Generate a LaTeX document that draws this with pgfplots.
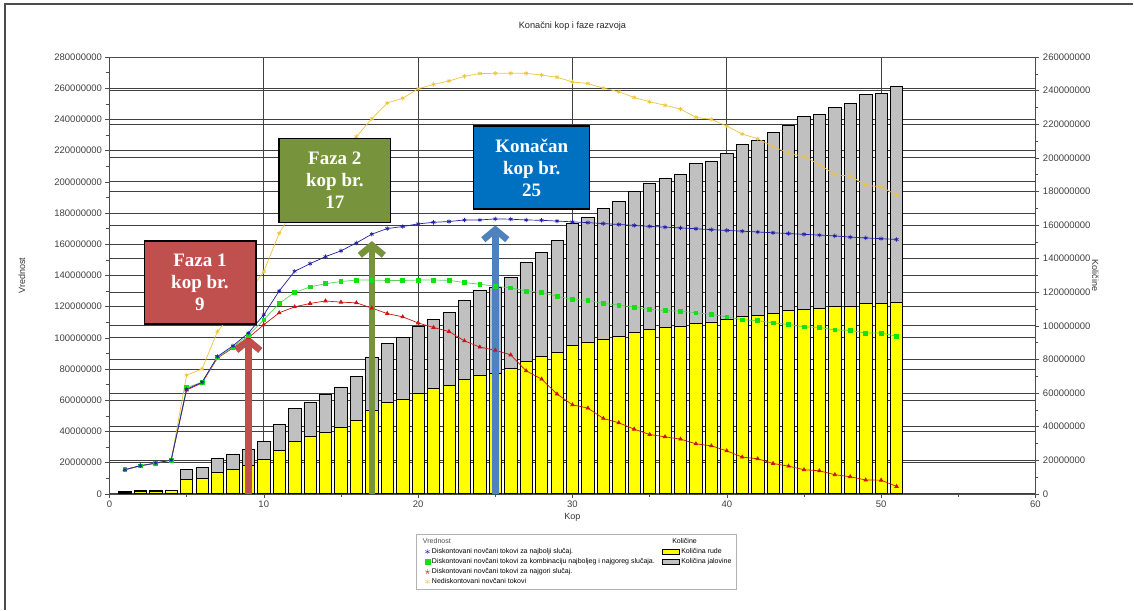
\documentclass[border=0pt]{standalone}
\usepackage{fontspec}
\setmainfont{Liberation Sans}
\newfontfamily\boxfont{Liberation Serif}
\usepackage{pgfplots}
\usepackage{pgfplotstable}
\pgfplotsset{compat=1.18}
\usetikzlibrary{arrows.meta}

\definecolor{oreyel}{RGB}{255,255,0}
\definecolor{wastegr}{RGB}{192,192,192}
\definecolor{bestc}{RGB}{30,30,170}
\definecolor{midc}{RGB}{20,225,20}
\definecolor{midline}{RGB}{90,210,90}
\definecolor{worstc}{RGB}{205,20,20}
\definecolor{undisc}{RGB}{238,196,60}
\definecolor{f1}{RGB}{192,80,77}
\definecolor{f2}{RGB}{119,147,60}
\definecolor{f3}{RGB}{0,112,192}
\definecolor{a3}{RGB}{79,129,189}

% cash flows, millions
\pgfplotstableread{
x best mid worst undisc
1 15.4 15.4 15.4 15.4
2 18.0 17.9 17.9 17.9
3 19.6 19.6 19.6 19.6
4 21.6 21.6 21.6 21.6
5 67.0 68.0 66.5 76.0
6 71.5 71.5 71.0 80.0
7 88.0 87.5 87.0 104.0
8 94.8 94.0 93.5 116.0
9 103.0 101.5 100.0 129.0
10 114.7 111.5 108.3 142.4
11 130.0 122.0 116.0 167.0
12 142.6 129.0 119.8 183.0
13 147.5 132.6 122.0 197.0
14 152.0 134.7 123.6 209.0
15 155.7 136.0 122.8 220.0
16 160.8 137.0 122.4 229.0
17 166.4 137.0 119.0 240.4
18 170.0 136.7 115.5 250.5
19 171.3 136.7 113.4 253.5
20 173.0 137.0 109.5 259.6
21 174.0 137.0 106.6 262.4
22 174.5 136.8 104.0 264.6
23 175.5 135.4 98.0 267.6
24 175.5 134.3 94.0 269.4
25 176.2 133.0 92.0 269.5
26 176.0 132.0 89.0 269.5
27 175.5 130.0 78.8 269.5
28 175.3 129.0 73.5 268.4
29 174.8 126.6 63.9 267.0
30 174.3 124.5 57.0 264.0
31 173.8 124.0 54.9 263.0
32 173.2 122.0 48.3 260.0
33 172.6 121.0 45.5 257.7
34 172.0 119.6 41.4 254.0
35 171.4 118.3 38.0 251.3
36 170.9 117.4 36.5 249.0
37 170.4 117.0 35.0 246.6
38 169.9 116.0 32.0 241.3
39 169.3 115.0 30.7 240.0
40 168.8 113.4 27.5 235.7
41 168.3 111.5 23.5 230.6
42 167.8 111.0 22.4 227.6
43 167.3 109.5 19.4 222.5
44 166.8 108.5 17.7 218.6
45 166.3 107.0 15.4 216.0
46 165.8 106.6 14.7 211.2
47 165.3 105.0 12.2 204.4
48 164.5 104.7 10.9 203.7
49 164.0 103.0 8.8 197.8
50 163.5 103.0 8.7 196.7
51 163.0 101.0 4.7 191.5
}\flows

% ore and waste, millions
\pgfplotstableread{
x ore waste
1 1.0 0.2
2 1.5 0.3
3 1.5 0.3
4 1.9 0.3
5 8.3 6.4
6 9.3 6.6
7 12.7 8.1
8 14.5 8.7
9 16.7 9.7
10 20.4 10.9
11 26.0 15.5
12 31.1 19.5
13 34.1 20.4
14 36.7 22.3
15 39.5 24.1
16 43.6 26.4
17 49.6 31.4
18 54.5 35.1
19 56.5 36.5
20 59.9 39.6
21 62.9 41.0
22 64.7 43.3
23 68.0 47.2
24 70.8 50.6
25 71.8 51.2
26 74.8 54.1
27 78.7 59.1
28 81.7 61.8
29 84.3 66.5
30 88.5 72.5
31 90.0 74.4
32 92.2 77.8
33 93.8 80.3
34 96.2 83.8
35 98.0 86.8
36 98.8 88.8
37 99.5 90.7
38 101.5 95.2
39 102.3 95.8
40 103.9 98.8
41 105.5 102.5
42 106.3 104.1
43 107.5 107.5
44 108.9 110.6
45 109.9 114.6
46 110.5 115.4
47 111.4 118.6
48 111.8 120.6
49 113.4 124.4
50 113.4 124.7
51 114.2 128.5
}\amounts

\pgfplotsset{
  common/.style={
    set layers,
    at={(109.5pt,116pt)}, anchor=south west,
    scale only axis, width=926.5pt, height=437pt,
    xmin=0, xmax=60,
    axis line style={black!70},
    major tick length=4pt, minor tick length=3pt,
    tick align=outside,
    every tick/.style={black!70},
    tick label style={font=\fontsize{9.5}{11}\selectfont, text=black!75},
    grid style={black!75, line width=0.7pt},
  },
  nolegimg/.style={legend image code/.code={}},
}

\begin{document}
\begin{tikzpicture}
\path (0pt,0pt) rectangle (1134pt,610pt);
\draw[black!70, line width=1.2pt] (5pt,0pt) -- (5pt,606pt) -- (1134pt,606pt);

% quantities (right axis)
\begin{axis}[common,
  ymin=0, ymax=260,
  axis y line*=right, axis x line=none,
  ytick={0,20,...,260},
  yticklabels={0,20000000,40000000,60000000,80000000,100000000,120000000,140000000,160000000,180000000,200000000,220000000,240000000,260000000},
  minor y tick num=1,
  ymajorgrids,
  ybar stacked, bar width=0.8,
  ylabel={Količine},
  every axis y label/.style={at={(axis description cs:1.0648,0.5)}, rotate=-90, anchor=center, font=\fontsize{9}{10}\selectfont, text=black!80},
]
\addplot[draw=black, line width=0.6pt, fill=oreyel] table[x=x,y=ore]{\amounts};
\addplot[draw=black, line width=0.6pt, fill=wastegr] table[x=x,y=waste]{\amounts};
\end{axis}

% values (left axis)
\begin{axis}[common,
  ymin=0, ymax=280,
  tick pos=left,
  xtick={0,10,...,60}, minor x tick num=1,
  ytick={0,20,...,280},
  yticklabels={0,20000000,40000000,60000000,80000000,100000000,120000000,140000000,160000000,180000000,200000000,220000000,240000000,260000000,280000000},
  minor y tick num=1,
  /pgf/number format/assume math mode=true,
  xmajorgrids, ymajorgrids,
  xlabel={Kop}, ylabel={Vrednost},
  every axis x label/.style={at={(axis description cs:0.5,-0.055)}, anchor=center, font=\fontsize{9}{10}\selectfont, text=black!80},
  every axis y label/.style={at={(axis description cs:-0.0944,0.5)}, rotate=90, anchor=center, font=\fontsize{9}{10}\selectfont, text=black!80},
  title={Konačni kop i faze razvoja},
  title style={at={(axis description cs:0.5,1.057)}, anchor=center, font=\fontsize{9.2}{10}\selectfont, text=black!85},
  legend columns=2,
  legend cell align=left,
  legend style={at={(axis description cs:0.3308,-0.0915)}, anchor=north west,
    draw=black!30, font=\fontsize{7}{8}\selectfont, row sep=-0.6pt,
    inner xsep=3pt, inner ysep=2.5pt,
    /tikz/every even column/.append style={column sep=5pt}},
]
\addplot[undisc, line width=0.7pt, mark=asterisk, mark size=2.2pt, forget plot] table[x=x,y=undisc]{\flows};
\addplot[worstc, line width=0.7pt, mark=triangle*, mark size=2pt, forget plot] table[x=x,y=worst]{\flows};
\addplot[midline, line width=0.7pt, mark=square*, mark size=1.9pt, mark options={fill=midc, draw=midc}, forget plot] table[x=x,y=mid]{\flows};
\addplot[bestc, line width=0.7pt, mark=asterisk, mark size=2.2pt, forget plot] table[x=x,y=best]{\flows};

\addlegendimage{nolegimg}\addlegendentry{\hspace{-9pt}\textcolor{black!70}{Vrednost}}
\addlegendimage{nolegimg}\addlegendentry{\hspace{-9pt}Količine}
\addlegendimage{only marks, bestc, mark=asterisk, mark size=2.5pt}\addlegendentry{Diskontovani novčani tokovi za najbolji slučaj.}
\addlegendimage{area legend, draw=black, fill=oreyel}\addlegendentry{Količina rude}
\addlegendimage{only marks, midc, mark=square*, mark size=2.5pt}\addlegendentry{Diskontovani novčani tokovi za kombinaciju najboljeg i najgoreg slučaja.}
\addlegendimage{area legend, draw=black, fill=wastegr}\addlegendentry{Količina jalovine}
\addlegendimage{only marks, worstc, mark=star, mark size=2.5pt}\addlegendentry{Diskontovani novčani tokovi za najgori slučaj.}
\addlegendimage{nolegimg}\addlegendentry{}
\addlegendimage{only marks, undisc, mark=asterisk, mark size=2.5pt}\addlegendentry{Nediskontovani novčani tokovi}
\addlegendimage{nolegimg}\addlegendentry{}

\draw[f1, line width=6.5pt, -{Straight Barb[length=10pt,width=24pt]}] (axis cs:9,0) -- (axis cs:9,101);
\draw[f2, line width=6.5pt, -{Straight Barb[length=10pt,width=24pt]}] (axis cs:17,0) -- (axis cs:17,162);
\draw[a3, line width=6.5pt, -{Straight Barb[length=10pt,width=24pt]}] (axis cs:25,0) -- (axis cs:25,172);
\end{axis}

\draw[fill=f1, line width=1.3pt] (144.3pt,369pt) rectangle (256pt,285.7pt);
\node[text=white, font=\boxfont\bfseries\fontsize{19}{22}\selectfont, align=center] at (200pt,327.5pt) {Faza 1\\kop br.\\9};
\draw[fill=f2, line width=1.3pt] (279pt,471.7pt) rectangle (390.7pt,387.7pt);
\node[text=white, font=\boxfont\bfseries\fontsize{19}{22}\selectfont, align=center] at (335pt,429.7pt) {Faza 2\\kop br.\\17};
\draw[fill=f3, line width=1.3pt] (474pt,484pt) rectangle (590pt,401pt);
\node[text=white, font=\boxfont\bfseries\fontsize{19}{22}\selectfont, align=center] at (532pt,442pt) {Konačan\\kop br.\\25};
\end{tikzpicture}
\end{document}
